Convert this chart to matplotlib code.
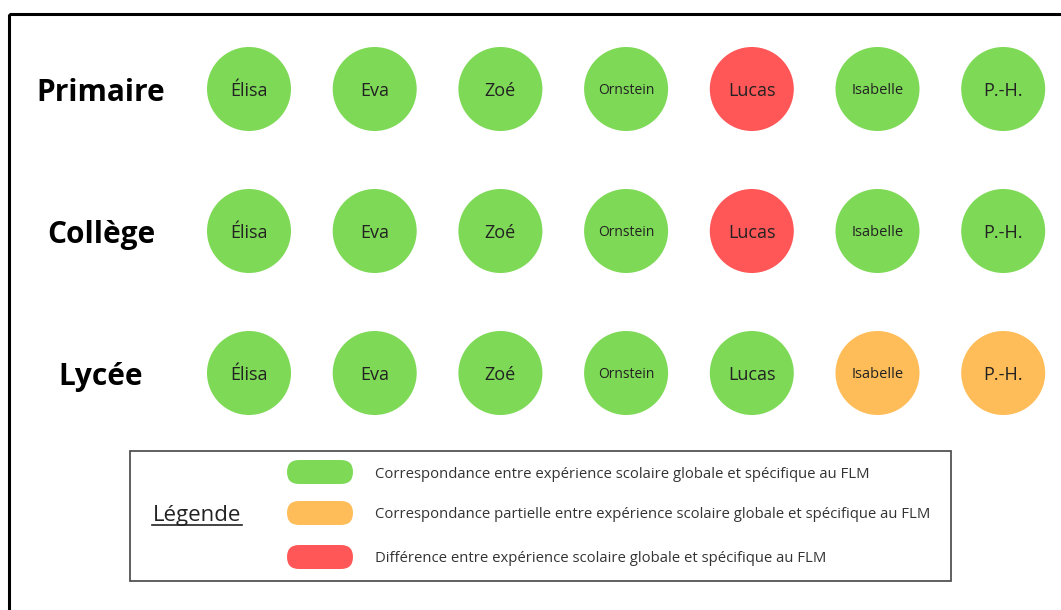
import matplotlib
matplotlib.use("Agg")
import matplotlib.pyplot as plt
from matplotlib.patches import Circle, FancyBboxPatch, Rectangle

plt.rcParams['font.family'] = ['Open Sans', 'DejaVu Sans']

levels = ["Primaire", "Collège", "Lycée"]
names = ["Élisa", "Eva", "Zoé", "Ornstein", "Lucas", "Isabelle", "P.-H."]
# 0 = correspondance, 1 = partielle, 2 = différence
status = [
    [0, 0, 0, 0, 2, 0, 0],
    [0, 0, 0, 0, 2, 0, 0],
    [0, 0, 0, 0, 0, 1, 1],
]
name_sizes = [13, 13, 13, 10, 13, 10.5, 13]
colors = ["#7ED957", "#FFBD59", "#FF5757"]
legend_labels = [
    "Correspondance entre expérience scolaire globale et spécifique au FLM",
    "Correspondance partielle entre expérience scolaire globale et spécifique au FLM",
    "Différence entre expérience scolaire globale et spécifique au FLM",
]

W, H = 1061, 610
fig = plt.figure(figsize=(W / 100, H / 100), dpi=100)
ax = fig.add_axes([0, 0, 1, 1])
ax.set_xlim(0, W)
ax.set_ylim(H, 0)
ax.axis("off")

# outer frame (runs off the right and bottom edges)
ax.add_patch(Rectangle((9, 14), 1070, 620, fill=False, ec="black", lw=2.2))

x0, dx = 249, 125.7
y0, dy = 89, 142
r = 42
for i, lvl in enumerate(levels):
    y = y0 + i * dy
    ax.text(101, y + 4, lvl, ha="center", va="center", fontsize=21.5,
            fontweight="bold", color="black")
    for j, nm in enumerate(names):
        x = x0 + j * dx
        ax.add_patch(Circle((x, y), r, color=colors[status[i][j]], lw=0))
        ax.text(x, y + 2, nm, ha="center", va="center", fontsize=name_sizes[j],
                color="#222222")

# legend box
ax.add_patch(Rectangle((130, 451), 821, 130, fill=False, ec="#444444", lw=1.2))
ax.text(197, 516, "Légende", ha="center", va="center", fontsize=16, color="#222222")
ax.plot([152, 242], [525, 525], color="#222222", lw=1.2)
ly = [472, 513, 557]
for k, lab in enumerate(legend_labels):
    ax.add_patch(FancyBboxPatch((299, ly[k]), 42, 0,
                                boxstyle="round,pad=12", color=colors[k], lw=0))
    ax.text(375, ly[k] + 2, lab, ha="left", va="center", fontsize=10.7, color="#333333")

fig.savefig("out.png", dpi=100)
